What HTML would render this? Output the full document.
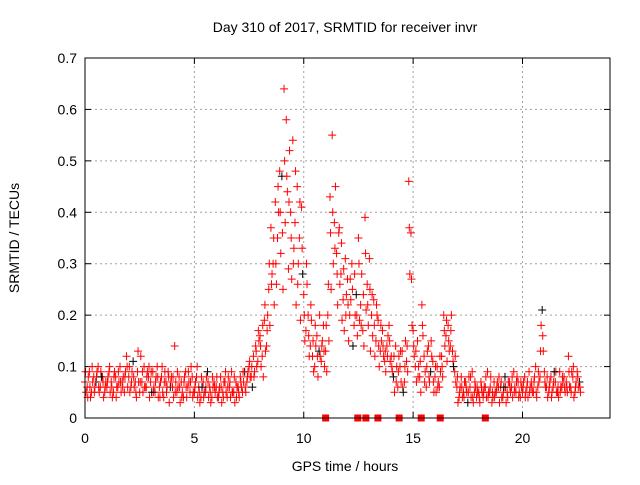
<!DOCTYPE html>
<html><head><meta charset="utf-8"><style>
html,body{margin:0;padding:0;background:#fff}
svg text{font-family:"Liberation Sans",sans-serif;font-size:14px;fill:#000}
</style></head><body>
<svg id="chart" width="640" height="480" viewBox="0 0 640 480" xmlns="http://www.w3.org/2000/svg">
<rect width="640" height="480" fill="#fff"/>
<text x="345" y="32" text-anchor="middle">Day 310 of 2017, SRMTID for receiver invr</text>
<text x="345" y="471" text-anchor="middle">GPS time / hours</text>
<text transform="translate(19,238) rotate(-90)" text-anchor="middle">SRMTID / TECUs</text>
<g id="grid"></g><g id="ticks"></g><g id="marks"></g>
<rect x="85" y="58" width="525" height="360" fill="none" stroke="#000" stroke-width="1"/>
</svg>
<script>
const xTicks=[0,5,10,15,20];
const yTicks=[0,0.1,0.2,0.3,0.4,0.5,0.6,0.7];
const yTickLabels=["0","0.1","0.2","0.3","0.4","0.5","0.6","0.7"];
const gapTimes=[11.0,12.47,12.84,13.39,14.36,15.37,16.24,18.3];
const seriesA=[.07,.06,.09,.05,.08,.07,.10,.06,.08,.05,
.06,.09,.07,.05,.08,.06,.10,.07,.05,.12,
.08,.06,.11,.07,.09,.05,.07,.10,.06,.08,
.07,.09,.05,.10,.06,.08,.04,.07,.09,.06,
.06,.14,.05,.08,.07,.04,.09,.06,.05,.08,
.05,.08,.06,.04,.07,.05,.09,.06,.04,.07,
.06,.04,.08,.05,.07,.04,.06,.09,.05,.07,
.06,.08,.05,.09,.07,.10,.08,.12,.14,.11,
.16,.12,.19,.14,.25,.37,.30,.42,.35,.48,
.47,.64,.58,.29,.40,.54,.38,.45,.35,.41,
.24,.17,.20,.14,.12,.10,.16,.13,.11,.18,
.13,.20,.43,.55,.38,.32,.36,.28,.23,.31,
.27,.20,.30,.18,.24,.35,.22,.17,.39,.26,
.31,.20,.23,.15,.19,.13,.17,.11,.14,.18,
.12,.08,.14,.06,.10,.13,.07,.11,.46,.36,
.17,.10,.15,.08,.22,.12,.06,.14,.09,.11,
.08,.10,.06,.12,.20,.16,.18,.14,.13,.09,
.06,.04,.08,.05,.07,.03,.06,.09,.05,.04,
.05,.07,.04,.06,.09,.05,.03,.07,.05,.06,
.06,.04,.08,.05,.07,.06,.09,.05,.07,.04,
.05,.08,.06,.09,.07,.05,.10,.06,.08,.21,
.09,.06,.05,.08,.06,.07,.05,.09,.06,.08,
.07,.12,.06,.08,.05,.09,.07];
const seriesB=[.05,.08,.04,.07,.06,.09,.05,.08,.04,.07,
.08,.05,.04,.09,.06,.07,.05,.08,.09,.06,
.05,.09,.06,.04,.07,.12,.05,.06,.09,.04,
.05,.06,.08,.04,.07,.05,.09,.06,.03,.08,
.04,.07,.06,.03,.05,.08,.04,.07,.10,.05,
.07,.04,.03,.06,.05,.08,.04,.03,.06,.05,
.04,.06,.03,.07,.05,.08,.04,.05,.03,.06,
.04,.06,.07,.05,.09,.08,.06,.09,.10,.15,
.10,.08,.13,.20,.18,.28,.22,.26,.40,.32,
.25,.38,.44,.52,.27,.33,.22,.30,.19,.28,
.15,.26,.12,.19,.09,.14,.08,.12,.15,.10,
.09,.15,.25,.30,.45,.22,.26,.19,.17,.24,
.15,.23,.14,.20,.16,.19,.28,.14,.21,.18,
.13,.16,.12,.20,.10,.15,.12,.09,.16,.11,
.09,.05,.10,.12,.07,.05,.15,.09,.28,.18,
.12,.07,.10,.05,.16,.09,.13,.07,.12,.05,
.05,.07,.09,.08,.14,.11,.13,.20,.10,.07,
.03,.06,.04,.07,.05,.08,.04,.03,.06,.05,
.03,.05,.06,.04,.05,.08,.04,.05,.07,.03,
.04,.06,.03,.07,.05,.04,.06,.08,.05,.06,
.07,.05,.04,.06,.05,.08,.04,.07,.18,.13,
.06,.04,.07,.05,.09,.05,.04,.06,.07,.05,
.05,.06,.09,.04,.07,.06,.05];
const seriesC=[.09,.04,.06,.10,.05,.08,.06,.09,.07,.06,
.07,.10,.06,.08,.04,.09,.07,.06,.08,.10,
.10,.07,.08,.05,.13,.07,.09,.06,.08,.10,
.09,.05,.07,.08,.04,.10,.07,.05,.08,.07,
.08,.05,.09,.06,.04,.07,.06,.09,.07,.04,
.06,.10,.05,.08,.04,.06,.07,.05,.08,.06,
.08,.05,.06,.04,.09,.06,.07,.05,.08,.04,
.05,.07,.09,.06,.08,.11,.10,.08,.13,.17,
.14,.18,.22,.17,.30,.26,.35,.30,.45,.40,
.36,.50,.47,.42,.35,.30,.48,.26,.42,.33,
.20,.30,.16,.22,.15,.18,.12,.20,.14,.13,
.18,.26,.36,.40,.33,.28,.37,.34,.29,.20,
.22,.27,.25,.28,.20,.30,.18,.24,.32,.22,
.25,.24,.18,.22,.14,.18,.14,.13,.12,.15,
.10,.12,.07,.09,.13,.06,.10,.14,.37,.27,
.14,.13,.08,.11,.18,.07,.10,.08,.15,.07,
.10,.06,.12,.10,.17,.19,.15,.17,.11,.12,
.08,.05,.06,.04,.06,.05,.08,.04,.07,.06,
.04,.06,.05,.08,.04,.06,.05,.04,.06,.08,
.07,.05,.06,.04,.06,.08,.05,.07,.04,.07,
.06,.04,.07,.05,.06,.07,.05,.09,.13,.16,
.07,.08,.06,.04,.07,.09,.06,.05,.08,.06,
.06,.09,.05,.10,.06,.08,.06];
const timeStep=0.1;
const NS="http://www.w3.org/2000/svg";
const X0=85,X1=610,Y0=418,Y1=58,XMAX=24,YMAX=0.7;
function xs(t){return X0+(X1-X0)*t/XMAX;}
function ys(v){return Y0-(Y0-Y1)*v/YMAX;}
function mk(tag,attrs,parent){const e=document.createElementNS(NS,tag);for(const k in attrs)e.setAttribute(k,attrs[k]);parent.appendChild(e);return e;}
const grid=document.getElementById('grid'),ticks=document.getElementById('ticks'),marks=document.getElementById('marks');
xTicks.forEach(t=>{const x=xs(t);
 if(t>0){const g=mk('line',{x1:x,x2:x,y1:Y0,y2:Y1,stroke:'#a0a0a0','stroke-dasharray':'2,3'},grid);
 
 }
 mk('line',{x1:x,x2:x,y1:Y0,y2:Y0-6,stroke:'#000'},ticks);
 mk('line',{x1:x,x2:x,y1:Y1,y2:Y1+6,stroke:'#000'},ticks);
 const l=mk('text',{x:x,y:443,'text-anchor':'middle'},ticks);l.textContent=t;
 
 
});
yTicks.forEach((v,i)=>{const y=ys(v);
 if(v>0&&v<YMAX){const g=mk('line',{x1:X0,x2:X1,y1:y,y2:y,stroke:'#a0a0a0','stroke-dasharray':'2,3'},grid);
 
 }
 mk('line',{x1:X0,x2:X0+6,y1:y,y2:y,stroke:'#000'},ticks);
 mk('line',{x1:X1,x2:X1-6,y1:y,y2:y,stroke:'#000'},ticks);
 const l=mk('text',{x:77,y:y+5,'text-anchor':'end'},ticks);l.textContent=yTickLabels[i];
 
 
});
function plus(t,v,col){const x=xs(t),y=ys(v);
 const p=mk('path',{d:`M${x-4},${y}h8M${x},${y-4}v8`,stroke:col,'stroke-width':1,fill:'none'},marks);
 
 
}
seriesA.forEach((v,i)=>plus(i*timeStep,v,i%17==5?'#000':'#f00'));
seriesC.forEach((v,i)=>plus(i*timeStep+timeStep/4,v,'#f00'));
seriesB.forEach((v,i)=>plus(i*timeStep+timeStep/2,v,i%23==7?'#000':'#f00'));
gapTimes.forEach(t=>{const r=mk('rect',{x:xs(t)-3.5,y:Y0-3.5,width:7,height:7,fill:'#f00'},marks);
 
 
});
</script>
</body></html>
